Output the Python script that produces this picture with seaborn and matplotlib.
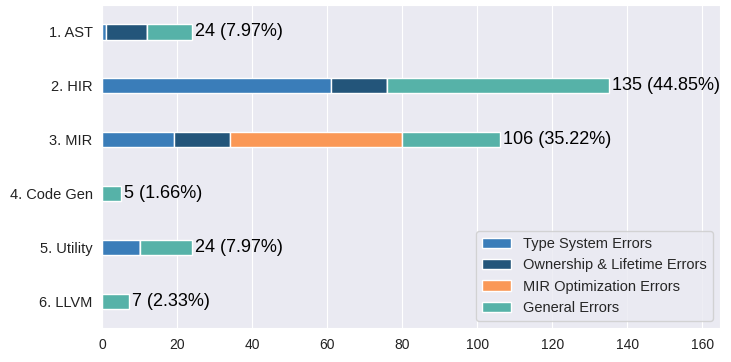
import numpy as np
import pandas as pd
import seaborn as sns
import matplotlib.pyplot as plt

# stages of the compiler and error counts per category
stages = ['1. AST', '2. HIR', '3. MIR', '4. Code Gen', '5. Utility', '6. LLVM']
type_system = [1, 61, 19, 0, 10, 0]
ownership = [11, 15, 15, 0, 0, 0]
mir_opt = [0, 0, 46, 0, 0, 0]
general = [12, 59, 26, 5, 14, 7]

categories = ['Type System Errors', 'Ownership & Lifetime Errors',
              'MIR Optimization Errors', 'General Errors']
colors = ['#3a7db9', '#23557a', '#fa9856', '#56b2a8']

df = pd.DataFrame({
    'stage': stages,
    categories[0]: type_system,
    categories[1]: ownership,
    categories[2]: mir_opt,
    categories[3]: general,
})

sns.set_style('darkgrid')
plt.rcParams['font.family'] = ['Liberation Sans', 'DejaVu Sans']

fig, ax = plt.subplots(figsize=(7.31, 3.62), dpi=100)
fig.subplots_adjust(left=0.14, right=0.985, bottom=0.094, top=0.986)

left = np.zeros(len(stages))
for cat, col in zip(categories, colors):
    vals = df[cat].values
    sns.barplot(x=vals, y=df['stage'], left=left, orient='h', color=col,
                saturation=1, width=0.28, edgecolor='white', linewidth=1,
                label=cat, ax=ax)
    left = left + vals

totals = left
grand = totals.sum()
for i, t in enumerate(totals):
    ax.text(t + 0.8, i, f'{int(t)} ({t / grand * 100:.2f}%)',
            va='center', ha='left', fontsize=13, color='black')

ax.set_xlim(0, totals.max() * 1.22)
ax.set_ylim(5.5, -0.5)
ax.set_xlabel('')
ax.set_ylabel('')
ax.tick_params(axis='y', labelsize=10.5, labelcolor='#222222')
ax.tick_params(axis='x', labelsize=10, labelcolor='#222222')
ax.legend(loc='lower right', fontsize=10.5)

plt.savefig('out.png', dpi=100)
